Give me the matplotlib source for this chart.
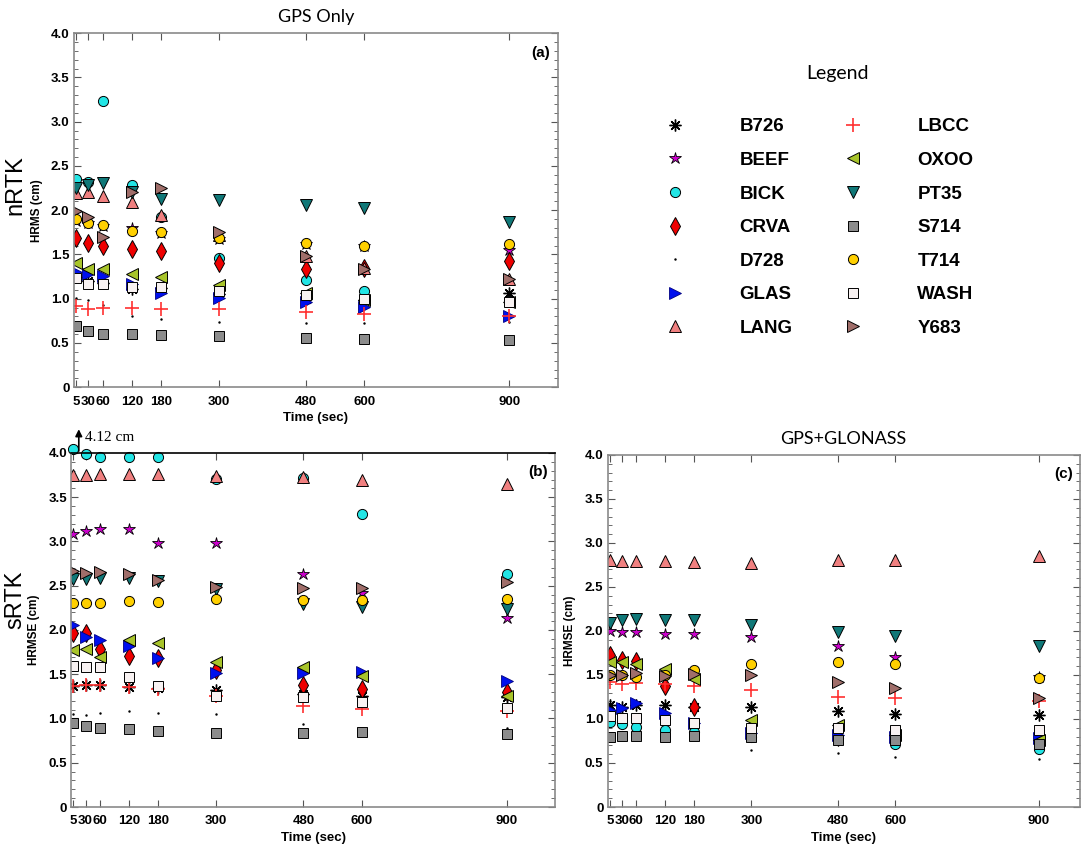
import matplotlib
matplotlib.use("Agg")
import matplotlib.pyplot as plt
import numpy as np
from matplotlib.ticker import MultipleLocator

# time steps (sec) and station names
times = [5, 30, 60, 120, 180, 300, 480, 600, 900]
stations = ['B726', 'BEEF', 'BICK', 'CRVA', 'D728', 'GLAS', 'LANG',
            'LBCC', 'OXOO', 'PT35', 'S714', 'T714', 'WASH', 'Y683']

# (a) nRTK, GPS only - HRMS (cm)
nrtk_gps = {
    'B726': [1.25, 1.20, 1.18, 1.11, 1.12, 1.05, 1.00, 0.98, 1.06],
    'BEEF': [1.88, 1.85, 1.82, 1.80, 1.74, 1.68, 1.62, 1.60, 1.55],
    'BICK': [2.35, 2.32, 3.23, 2.29, 1.92, 1.46, 1.21, 1.09, 0.97],
    'CRVA': [1.69, 1.63, 1.60, 1.56, 1.54, 1.40, 1.34, 1.35, 1.43],
    'D728': [1.01, 0.99, 0.93, 0.80, 0.77, 0.74, 0.72, 0.72, 0.74],
    'GLAS': [1.30, 1.28, 1.26, 1.17, 1.06, 1.01, 0.96, 0.91, 0.81],
    'LANG': [2.19, 2.20, 2.16, 2.09, 1.95, 1.72, 1.48, 1.35, 1.22],
    'LBCC': [0.92, 0.88, 0.89, 0.90, 0.88, 0.88, 0.85, 0.83, 0.81],
    'OXOO': [1.40, 1.33, 1.33, 1.28, 1.25, 1.16, 1.06, 0.98, 0.96],
    'PT35': [2.25, 2.28, 2.31, 2.20, 2.13, 2.11, 2.06, 2.02, 1.87],
    'S714': [0.69, 0.64, 0.60, 0.60, 0.59, 0.58, 0.56, 0.54, 0.53],
    'T714': [1.90, 1.86, 1.83, 1.77, 1.75, 1.69, 1.63, 1.60, 1.62],
    'WASH': [1.23, 1.17, 1.17, 1.13, 1.13, 1.09, 1.04, 1.00, 0.96],
    'Y683': [1.99, 1.92, 1.70, 2.21, 2.25, 1.75, 1.48, 1.34, 1.22],
}

# (b) sRTK, GPS only - HRMSE (cm)
srtk_gps = {
    'B726': [1.37, 1.38, 1.38, 1.36, 1.34, 1.32, 1.28, 1.25, 1.24],
    'BEEF': [3.08, 3.12, 3.14, 3.14, 2.98, 2.98, 2.63, 2.42, 2.13],
    'BICK': [4.12, 3.99, 3.96, 3.96, 3.96, 3.71, 3.72, 3.31, 2.63],
    'CRVA': [1.97, 1.97, 1.79, 1.71, 1.68, 1.55, 1.38, 1.33, 1.30],
    'D728': [1.05, 1.04, 1.06, 1.08, 1.06, 1.05, 0.94, 0.89, 0.89],
    'GLAS': [2.06, 1.92, 1.89, 1.82, 1.68, 1.51, 1.51, 1.52, 1.42],
    'LANG': [3.75, 3.75, 3.76, 3.76, 3.76, 3.74, 3.73, 3.69, 3.65],
    'LBCC': [1.37, 1.38, 1.38, 1.36, 1.33, 1.25, 1.14, 1.11, 1.08],
    'OXOO': [1.77, 1.79, 1.69, 1.89, 1.85, 1.64, 1.58, 1.48, 1.25],
    'PT35': [2.58, 2.58, 2.59, 2.59, 2.55, 2.46, 2.29, 2.26, 2.24],
    'S714': [0.95, 0.91, 0.89, 0.88, 0.86, 0.84, 0.84, 0.85, 0.83],
    'T714': [2.30, 2.30, 2.31, 2.33, 2.32, 2.35, 2.34, 2.34, 2.35],
    'WASH': [1.59, 1.58, 1.58, 1.47, 1.37, 1.25, 1.24, 1.19, 1.12],
    'Y683': [2.67, 2.64, 2.65, 2.63, 2.57, 2.49, 2.47, 2.48, 2.54],
}

# (c) sRTK, GPS+GLONASS - HRMSE (cm)
srtk_glo = {
    'B726': [1.16, 1.14, 1.16, 1.16, 1.14, 1.14, 1.09, 1.06, 1.05],
    'BEEF': [2.00, 1.99, 1.99, 1.97, 1.97, 1.93, 1.83, 1.70, 1.48],
    'BICK': [0.97, 0.94, 0.91, 0.87, 0.85, 0.80, 0.78, 0.72, 0.66],
    'CRVA': [1.73, 1.67, 1.66, 1.37, 1.14, 0.88, 0.80, 0.82, 0.81],
    'D728': [0.78, 0.79, 0.80, 0.78, 0.78, 0.65, 0.61, 0.57, 0.54],
    'GLAS': [1.10, 1.13, 1.18, 1.07, 0.95, 0.84, 0.82, 0.80, 0.78],
    'LANG': [2.81, 2.80, 2.80, 2.79, 2.78, 2.77, 2.81, 2.81, 2.85],
    'LBCC': [1.42, 1.40, 1.41, 1.40, 1.37, 1.33, 1.25, 1.24, 1.21],
    'OXOO': [1.65, 1.65, 1.62, 1.57, 1.45, 0.99, 0.93, 0.82, 0.76],
    'PT35': [2.09, 2.13, 2.14, 2.13, 2.12, 2.07, 1.99, 1.94, 1.83],
    'S714': [0.79, 0.81, 0.81, 0.80, 0.81, 0.80, 0.76, 0.76, 0.72],
    'T714': [1.50, 1.50, 1.48, 1.50, 1.56, 1.62, 1.65, 1.63, 1.47],
    'WASH': [1.03, 1.01, 1.01, 0.99, 0.96, 0.90, 0.90, 0.88, 0.88],
    'Y683': [1.50, 1.50, 1.52, 1.49, 1.51, 1.50, 1.42, 1.35, 1.24],
}

ytick_vals = [0, 0.5, 1.0, 1.5, 2.0, 2.5, 3.0, 3.5, 4.0]
ytick_labels = ['0', '0.5', '1.0', '1.5', '2.0', '2.5', '3.0', '3.5', '4.0']

# marker style per station
styles = {
    'B726': dict(marker=(8, 2, 0), color='black', ms=8.5, mew=1.0),
    'BEEF': dict(marker='*', color='#cc00cc', ms=9, mec='black', mew=0.6),
    'BICK': dict(marker='o', color='#22e5e5', ms=7.3, mec='black', mew=0.7),
    'CRVA': dict(marker='d', color='#ee0000', ms=9, mec='black', mew=0.7),
    'D728': dict(marker='.', color='black', ms=3.5, mew=0),
    'GLAS': dict(marker='>', color='#0010ee', ms=8, mec='#000080', mew=0.6),
    'LANG': dict(marker='^', color='#f08080', ms=8, mec='black', mew=0.7),
    'LBCC': dict(marker='+', color='#ff3030', ms=9.5, mew=1.2),
    'OXOO': dict(marker='<', color='#a8c42a', ms=8, mec='black', mew=0.7),
    'PT35': dict(marker='v', color='#107878', ms=8, mec='black', mew=0.7),
    'S714': dict(marker='s', color='#8c8c8c', ms=6.5, mec='black', mew=0.7),
    'T714': dict(marker='o', color='#ffd000', ms=7.3, mec='black', mew=0.7),
    'WASH': dict(marker='s', color='#f8f2f2', ms=6.5, mec='black', mew=0.7),
    'Y683': dict(marker='>', color='#a06e6a', ms=8, mec='black', mew=0.7),
}

tick_font = dict(family='Liberation Sans', weight='bold', size=9.5)
spine_color = '#8a8a8a'


def style_axes(ax, xmax):
    ax.set_xlim(0, xmax)
    ax.set_ylim(0, 4.0)
    ax.set_xticks(times)
    ax.set_xticklabels([str(t) for t in times], fontdict=tick_font)
    ax.set_yticks(ytick_vals)
    ax.set_yticklabels(ytick_labels, fontdict=tick_font)
    ax.yaxis.set_minor_locator(MultipleLocator(0.1))
    ax.tick_params(which='both', direction='in', top=True, right=True,
                   color='#555555', pad=3)
    ax.tick_params(which='major', length=5, width=0.8)
    ax.tick_params(which='minor', length=3, width=0.6)
    ax.tick_params(axis='x', pad=6)
    for s in ax.spines.values():
        s.set_color(spine_color)
        s.set_linewidth(1.2)
    ax.set_xlabel('Time (sec)', fontdict=tick_font, labelpad=3)


def plot_panel(ax, data, cap=None):
    handles = []
    for st in stations:
        y = np.array(data[st])
        clip = True
        if cap is not None and y.max() > cap:
            y = np.minimum(y, cap)
            clip = False
        h, = ax.plot(times, y, linestyle='none', label=st, clip_on=clip,
                     **styles[st])
        handles.append(h)
    return handles


def main():
    fig = plt.figure(figsize=(10.83, 8.51), dpi=100)

    ax_a = fig.add_axes([0.068, 0.545, 0.447, 0.416])
    ax_b = fig.add_axes([0.0656, 0.0517, 0.447, 0.416])
    ax_c = fig.add_axes([0.561, 0.0517, 0.436, 0.4137])

    handles = plot_panel(ax_a, nrtk_gps)
    plot_panel(ax_b, srtk_gps, cap=4.04)
    plot_panel(ax_c, srtk_glo)

    style_axes(ax_a, 1000)
    style_axes(ax_b, 1000)
    style_axes(ax_c, 985)
    ax_b.spines['top'].set_color('black')

    label_font = dict(family=['Liberation Sans Narrow', 'Liberation Sans'],
                      weight='bold', size=8.5)
    ax_a.set_ylabel('HRMS (cm)', fontdict=label_font, labelpad=6)
    ax_b.set_ylabel('HRMSE (cm)', fontdict=label_font, labelpad=6)
    ax_c.set_ylabel('HRMSE (cm)', fontdict=label_font, labelpad=6)

    big_font = dict(family=['Liberation Sans Narrow', 'Liberation Sans'], size=17)
    fig.text(0.014, 0.782, 'nRTK', rotation=90, va='center', ha='center', fontdict=big_font)
    fig.text(0.014, 0.295, 'sRTK', rotation=90, va='center', ha='center', fontdict=big_font)

    title_font = dict(family='Lato', size=13)
    ax_a.set_title('GPS Only', fontdict=title_font, pad=8)
    ax_c.set_title('GPS+GLONASS', fontdict=title_font, pad=8)

    panel_font = dict(family='Liberation Sans', weight='bold', size=11)
    for ax, tag in [(ax_a, '(a)'), (ax_b, '(b)'), (ax_c, '(c)')]:
        ax.text(0.985, 0.965, tag, transform=ax.transAxes, ha='right', va='top',
                fontdict=panel_font)

    # off-scale note for BICK in (b)
    ax_b.annotate('', xy=(16, 4.30), xytext=(16, 3.99),
                  arrowprops=dict(arrowstyle='-|>', color='black', lw=1.2,
                                  mutation_scale=10),
                  annotation_clip=False)
    ax_b.text(28, 4.18, '4.12 cm', fontdict=dict(family='Liberation Serif', size=11),
              va='center', ha='left', clip_on=False)

    # legend block
    fig.text(0.773, 0.914, 'Legend', ha='center', va='center',
             fontdict=dict(family='Lato', size=14))
    fig.legend(handles, stations, ncol=2, loc='upper left',
               bbox_to_anchor=(0.599, 0.881), frameon=False,
               handletextpad=2.95, columnspacing=2.7,
               labelspacing=0.88, handlelength=1.0,
               prop=dict(family='Liberation Sans', weight='bold', size=13.5))

    fig.savefig('out.png', dpi=100)


if __name__ == "__main__":
    main()
